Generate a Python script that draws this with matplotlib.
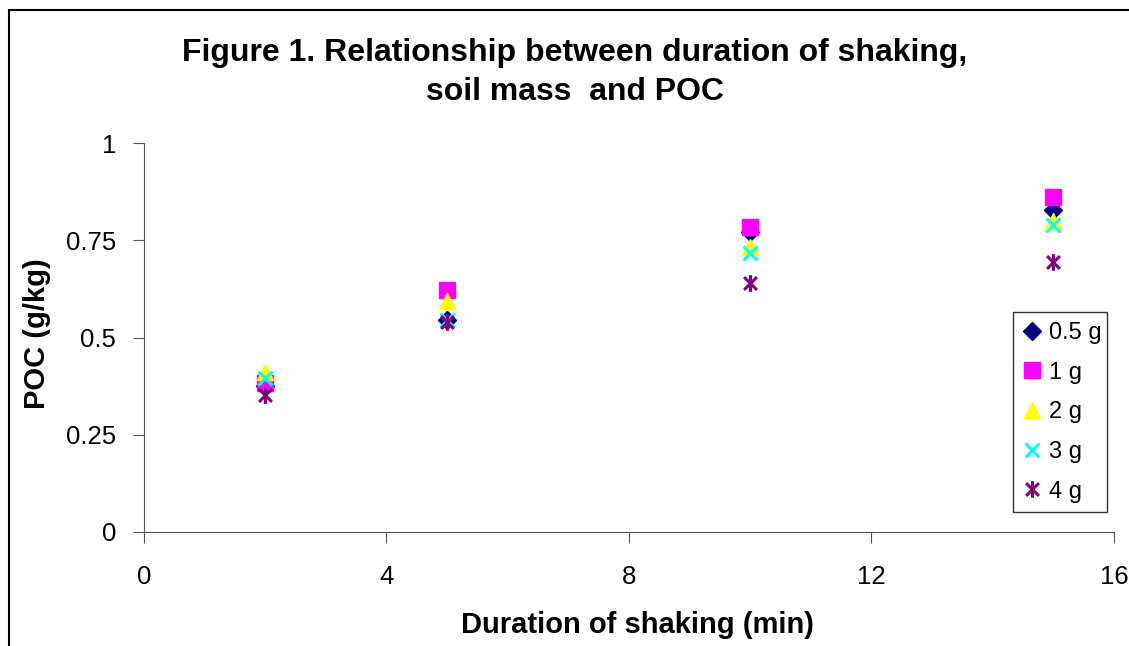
import matplotlib.pyplot as plt
from matplotlib.path import Path
from matplotlib.patches import Rectangle

plt.rcParams['font.family'] = ['Liberation Sans', 'DejaVu Sans']

duration = [2, 5, 10, 15]
poc_05g = [0.375, 0.545, 0.77, 0.828]
poc_1g = [0.383, 0.622, 0.784, 0.861]
poc_2g = [0.411, 0.593, 0.733, 0.80]
poc_3g = [0.396, 0.545, 0.717, 0.79]
poc_4g = [0.353, 0.54, 0.64, 0.694]
labels = ['0.5 g', '1 g', '2 g', '3 g', '4 g']

# Excel style star: an x with a vertical bar
star = Path([(-1, -1), (1, 1), (-1, 1), (1, -1), (0, -1.3), (0, 1.3)],
            [Path.MOVETO, Path.LINETO, Path.MOVETO, Path.LINETO, Path.MOVETO, Path.LINETO])

fig = plt.figure(figsize=(11.29, 6.46), dpi=100)
ax = fig.add_axes([0.1275, 0.1765, 0.8592, 0.6021])

ax.plot(duration, poc_05g, linestyle='none', marker='D', color='#000080', markersize=9, label=labels[0])
ax.plot(duration, poc_1g, linestyle='none', marker='s', color='#FF00FF', markersize=11, label=labels[1])
ax.plot(duration, poc_2g, linestyle='none', marker='^', color='#FFFF00', markersize=11, label=labels[2])
ax.plot(duration, poc_3g, linestyle='none', marker='x', color='#00FFFF', markersize=10,
        markeredgewidth=2.2, label=labels[3])
ax.plot(duration, poc_4g, linestyle='none', marker=star, color='#800080', markersize=12,
        markeredgewidth=2.2, label=labels[4])

ax.set_xlim(0, 16)
ax.set_ylim(0, 1)
ax.set_xticks([0, 4, 8, 12, 16])
ax.set_yticks([0, 0.25, 0.5, 0.75, 1])
ax.set_yticklabels(['0', '0.25', '0.5', '0.75', '1'])
ax.spines['top'].set_visible(False)
ax.spines['right'].set_visible(False)
ax.spines['left'].set_color('#555555')
ax.spines['bottom'].set_color('#555555')
ax.tick_params(axis='both', labelsize=18.5, direction='out', length=8, color='#555555')
ax.tick_params(axis='y', pad=12)
ax.tick_params(axis='x', pad=16)

ax.set_xlabel('Duration of shaking (min)', fontsize=21, fontweight='bold', va='center')
ax.xaxis.set_label_coords(0.509, -0.239)
ax.set_ylabel('POC (g/kg)', fontsize=21, fontweight='bold', va='center')
ax.yaxis.set_label_coords(-0.11, 0.51)

fig.text(0.509, 0.8875, 'Figure 1. Relationship between duration of shaking,\nsoil mass  and POC',
         ha='center', va='center', fontsize=23, fontweight='bold', linespacing=1.38)

leg = ax.legend(loc='lower left', bbox_to_anchor=(0.896, 0.051, 0.097, 0.512), mode='expand',
                fontsize=17, frameon=True, fancybox=False, handlelength=0.8, handletextpad=0.3,
                borderaxespad=0, labelspacing=0.75, borderpad=0.4)
leg.get_frame().set_edgecolor('black')
leg.get_frame().set_linewidth(1.0)

# outer chart border (left and top edges visible in the crop)
fig.patches.append(Rectangle((9 / 1129, -0.1), 1.2, (646 - 10) / 646 + 0.1, transform=fig.transFigure,
                             fill=False, edgecolor='black', linewidth=1.5))

fig.savefig('out.png', dpi=100)
